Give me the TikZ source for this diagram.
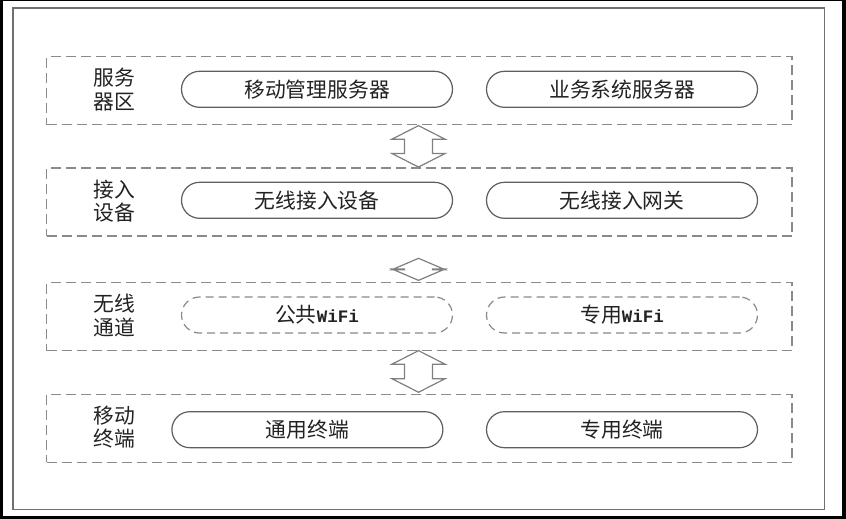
\documentclass[tikz,border=0pt]{standalone}
\usepackage{fontspec}
\setmainfont{Noto Sans CJK SC}
\newfontfamily\latinmono{Liberation Mono}
\usetikzlibrary{calc}

\definecolor{inkgrey}{HTML}{222222}
\definecolor{pillgrey}{HTML}{5E5E5E}
\definecolor{dashgrey}{HTML}{8A8A8A}
\definecolor{framegrey}{HTML}{707070}
\definecolor{arrowgrey}{HTML}{808080}

\tikzset{
  layerbox/.style={draw=dashgrey, line width=1.3pt, dash pattern=on 10pt off 5pt,
    minimum width=745.5pt, minimum height=68pt, inner sep=0pt},
  pill/.style={draw=pillgrey, line width=1.2pt, rounded corners=18pt,
    minimum width=271pt, minimum height=36pt, inner sep=0pt,
    font=\fontsize{20.8pt}{24pt}\selectfont, text=inkgrey},
  dashedpill/.style={pill, draw=dashgrey, dash pattern=on 8pt off 5pt},
  layerlabel/.style={align=center, inner sep=0pt, text=inkgrey,
    font=\fontsize{20.8pt}{23.7pt}\selectfont},
  arrowline/.style={draw=arrowgrey, line width=1.2pt, line join=miter, fill=white},
}

% double-headed block arrow: #1 top tip, #2 bottom tip, #3 head length
\newcommand\dblblockarrow[3]{%
  \draw[arrowline] (#1) -- ++(-26.5,#3) -- ++(12.5,0)
    -- ($(#2)+(-14,-#3)$) -- ++(-12.5,0) -- (#2) -- ++(26.5,-#3) -- ++(-12.5,0)
    -- ($(#1)+(14,#3)$) -- ++(12.5,0) -- cycle;}

\newcommand\wf{{\latinmono\bfseries\fontsize{17.5pt}{20pt}\selectfont WiFi}}

\begin{document}
\begin{tikzpicture}[x=1pt, y=-1pt]
  \useasboundingbox (0,0) rectangle (846,519);
  % page frame
  \fill[black] (0,0) rectangle (846,519);
  \fill[white] (3,1) rectangle (842,516);
  \draw[framegrey, line width=1.6pt] (12.7,8.3) rectangle (824.3,509.3);

  % layers
  \node[layerbox] (L1) at (419.25,90.7) {};
  \node[layerbox] (L2) at (419.25,202) {};
  \node[layerbox] (L3) at (419.25,316.7) {};
  \node[layerbox] (L4) at (419.25,428.3) {};

  % layer titles
  \node[layerlabel] (T1) at (114,89.5) {服务\\器区};
  \node[layerlabel] (T2) at (114,201) {接入\\设备};
  \node[layerlabel] (T3) at (114,315.5) {无线\\通道};
  \node[layerlabel] (T4) at (114,427) {移动\\终端};

  % components
  \node[pill] (P1a) at (317,89.3) {移动管理服务器};
  \node[pill] (P1b) at (622,89.3) {业务系统服务器};
  \node[pill] (P2a) at (317,200.3) {无线接入设备};
  \node[pill] (P2b) at (622,200.3) {无线接入网关};
  \node[dashedpill] (P3a) at (317,315) {公共\wf};
  \node[dashedpill] (P3b) at (622,315) {专用\wf};
  \node[pill] (P4a) at (307.4,429.7) {通用终端};
  \node[pill] (P4b) at (622,429.7) {专用终端};

  % links between layers
  \coordinate (A1t) at ($(L1.south)+(-0.75,0.3)$);
  \coordinate (A1b) at ($(L2.north)+(-0.75,-0.3)$);
  \coordinate (A2t) at (418.5,258.3);
  \coordinate (A2b) at ($(L3.north)+(-0.75,-1.7)$);
  \coordinate (A3t) at ($(L3.south)+(-0.75,-0.7)$);
  \coordinate (A3b) at ($(L4.north)+(-0.75,-1.4)$);
  \dblblockarrow{A1t}{A1b}{13.5}
  \dblblockarrow{A2t}{A2b}{11.35}
  \dblblockarrow{A3t}{A3b}{13.5}
\end{tikzpicture}
\end{document}
